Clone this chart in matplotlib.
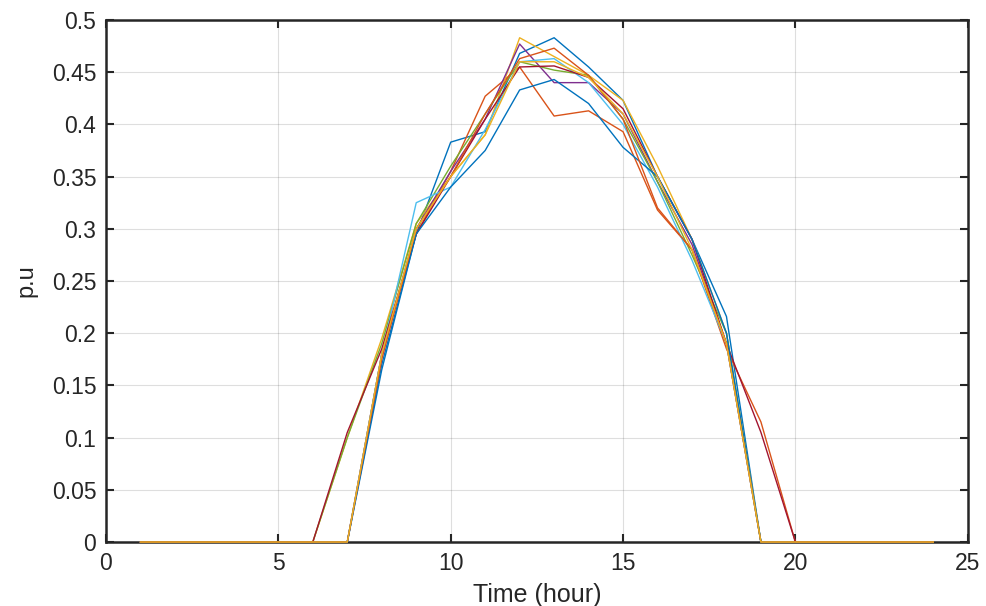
import numpy as np
import matplotlib.pyplot as plt

plt.rcParams['font.family'] = ['Liberation Sans', 'DejaVu Sans']

hours = np.arange(1, 25)

# p.u. output per hour (hours 7..20 given, rest zero)
day_hours = [7, 8, 9, 10, 11, 12, 13, 14, 15, 16, 17, 18, 19, 20]
s1 = [0.0, 0.170, 0.295, 0.383, 0.393, 0.468, 0.483, 0.455, 0.423, 0.350, 0.290, 0.216, 0.0, 0.0]
s2 = [0.0, 0.180, 0.295, 0.355, 0.427, 0.455, 0.408, 0.413, 0.393, 0.318, 0.280, 0.185, 0.115, 0.0]
s3 = [0.100, 0.195, 0.305, 0.350, 0.390, 0.483, 0.465, 0.447, 0.423, 0.360, 0.290, 0.200, 0.0, 0.0]
s4 = [0.0, 0.180, 0.300, 0.355, 0.405, 0.477, 0.440, 0.440, 0.410, 0.345, 0.285, 0.190, 0.0, 0.0]
s5 = [0.100, 0.190, 0.305, 0.360, 0.410, 0.460, 0.452, 0.447, 0.405, 0.345, 0.275, 0.200, 0.0, 0.0]
s6 = [0.0, 0.180, 0.325, 0.340, 0.395, 0.460, 0.463, 0.440, 0.400, 0.340, 0.270, 0.190, 0.0, 0.0]
s7 = [0.105, 0.185, 0.295, 0.350, 0.405, 0.455, 0.456, 0.445, 0.415, 0.350, 0.290, 0.190, 0.105, 0.0]
s8 = [0.0, 0.165, 0.295, 0.340, 0.375, 0.433, 0.443, 0.420, 0.378, 0.350, 0.290, 0.200, 0.0, 0.0]
s9 = [0.0, 0.175, 0.300, 0.350, 0.410, 0.463, 0.473, 0.447, 0.405, 0.320, 0.280, 0.190, 0.0, 0.0]
s10 = [0.0, 0.180, 0.300, 0.350, 0.390, 0.460, 0.460, 0.445, 0.410, 0.350, 0.280, 0.190, 0.0, 0.0]
series = [s1, s2, s3, s4, s5, s6, s7, s8, s9, s10]

colors = ['#0072BD', '#D95319', '#EDB120', '#7E2F8E', '#77AC30',
          '#4DBEEE', '#A2142F', '#0072BD', '#D95319', '#EDB120']

yticks = [0, 0.05, 0.1, 0.15, 0.2, 0.25, 0.3, 0.35, 0.4, 0.45, 0.5]
ytick_labels = ['0', '0.05', '0.1', '0.15', '0.2', '0.25', '0.3', '0.35', '0.4', '0.45', '0.5']

fig = plt.figure(figsize=(9.86, 6.06), dpi=100)
ax = fig.add_axes([0.1075, 0.1056, 0.874, 0.8614])

for s, c in zip(series, colors):
    y = np.zeros(len(hours))
    for h, v in zip(day_hours, s):
        y[h - 1] = v
    ax.plot(hours, y, color=c, lw=1.0, zorder=3, clip_on=False)

ax.set_xlim(0, 25)
ax.set_ylim(0, 0.5)
ax.set_xticks([0, 5, 10, 15, 20, 25])
ax.set_yticks(yticks)
ax.set_yticklabels(ytick_labels)
ax.grid(True, color='#262626', alpha=0.15, lw=0.8)
ax.tick_params(direction='in', top=True, right=True, length=6, width=1.5,
               labelsize=16.5, colors='#262626', pad=7)
for sp in ax.spines.values():
    sp.set_linewidth(1.8)
    sp.set_color('#262626')
ax.set_xlabel('Time (hour)', fontsize=18, color='#262626', labelpad=6)
ax.set_ylabel('p.u', fontsize=17, color='#262626', labelpad=10)

fig.savefig('out.png', dpi=100)
